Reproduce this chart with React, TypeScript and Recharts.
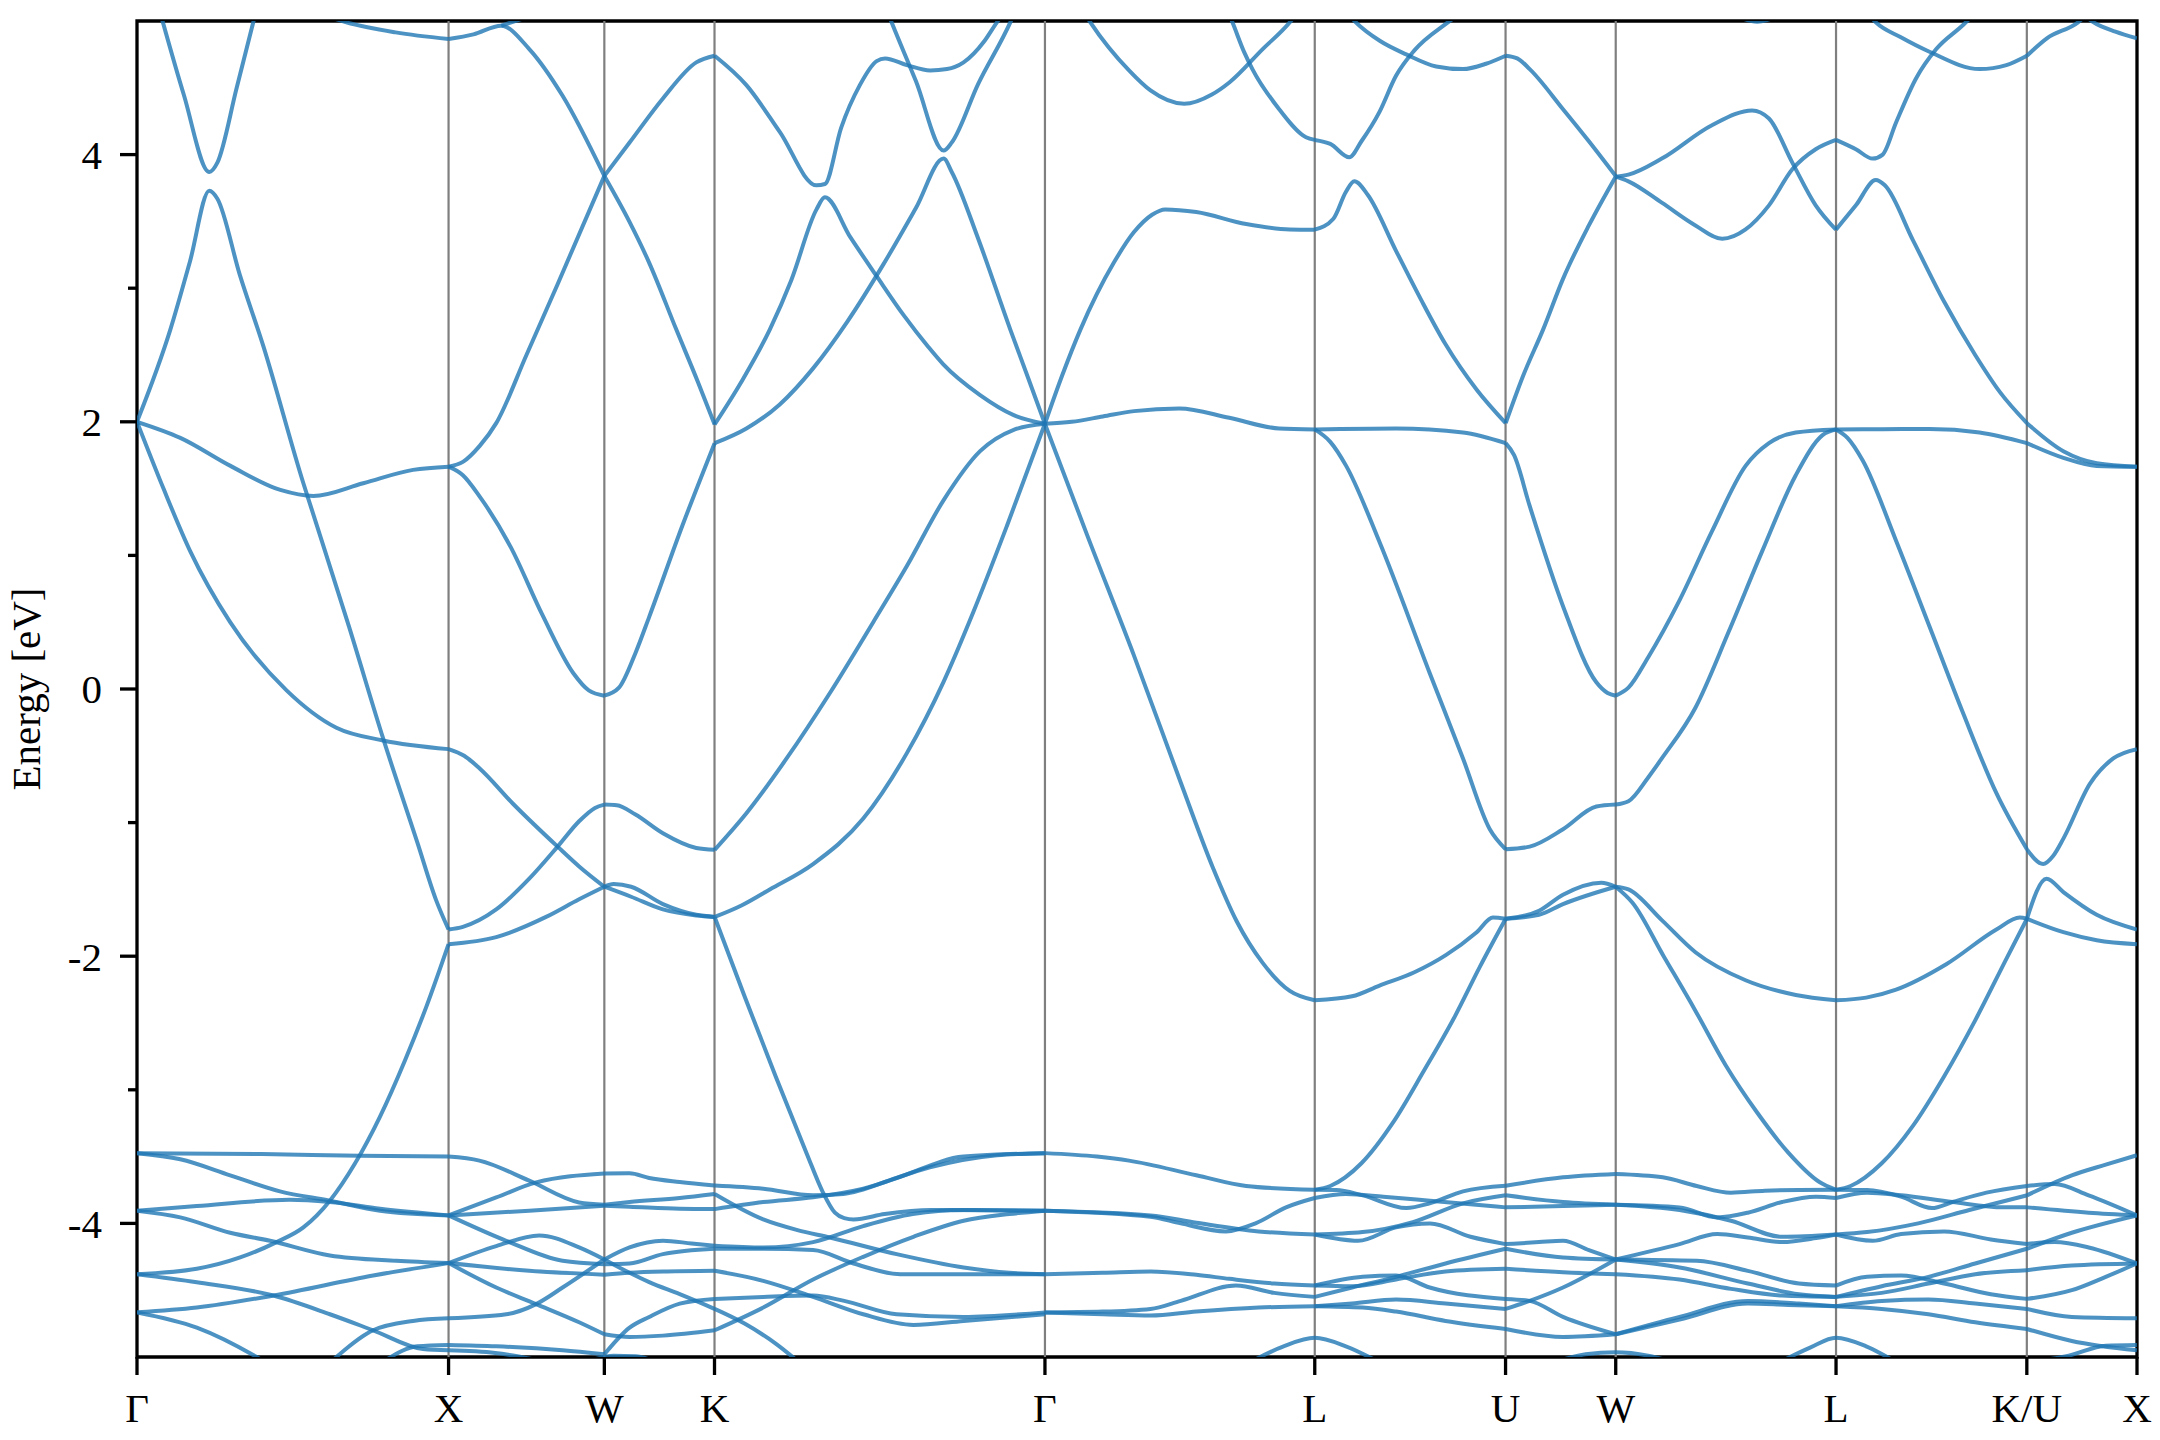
import React from "react";
import { LineChart, Line, XAxis, YAxis, ReferenceLine, ReferenceArea } from "recharts";

// k-path of the FCC zone, distances in units of 2pi/a
const kLabels = ["Γ", "X", "W", "K", "Γ", "L", "U", "W", "L", "K/U", "X"];
const kTicks = [0, 1, 1.5, 1.8536, 2.9142, 3.7802, 4.3926, 4.7462, 5.4533, 6.0657, 6.4193];
const energyTicks = [-4, -3, -2, -1, 0, 1, 2, 3, 4];
const energyLabels = [-4, -2, 0, 2, 4];

type Curve = number[][]; // [k, E] pairs

// bands read per path segment
const gammaX: Curve[] = [
    [[0.07, 5.1], [0.15, 4.45], [0.232, 3.87], [0.258, 3.94], [0.32, 4.5], [0.385, 5.1]],
    [[0, 2.0], [0.107, 2.69], [0.17, 3.2], [0.232, 3.73], [0.258, 3.67], [0.33, 3.1], [0.405, 2.57], [0.534, 1.54], [0.56, 1.35], [0.68, 0.47], [0.79, -0.37], [0.9, -1.15], [0.96, -1.58], [1, -1.8]],
    [[0, 2.0], [0.139, 1.88], [0.3, 1.67], [0.46, 1.49], [0.566, 1.445], [0.726, 1.54], [0.886, 1.64], [1, 1.664]],
    [[0, 2.0], [0.085, 1.5], [0.171, 1.03], [0.299, 0.5], [0.48, -0.01], [0.64, -0.29], [0.79, -0.385], [1, -0.45]],
    [[0.58, 5.06], [0.672, 4.99], [0.83, 4.915], [1, 4.865]],
    [[0, -4.38], [0.192, -4.34], [0.331, -4.255], [0.448, -4.14], [0.534, -4.03], [0.619, -3.83], [0.7, -3.55], [0.78, -3.2], [0.86, -2.78], [0.93, -2.37], [1, -1.91]],
    [[0, -3.474], [0.4, -3.48], [0.715, -3.494], [1, -3.5]],
    [[0, -3.474], [0.139, -3.52], [0.299, -3.64], [0.459, -3.76], [0.619, -3.83], [0.78, -3.905], [1, -3.94]],
    [[0, -3.905], [0.192, -3.87], [0.49, -3.823], [0.619, -3.84], [0.78, -3.89], [1, -3.94]],
    [[0, -3.905], [0.139, -3.955], [0.299, -4.07], [0.427, -4.13], [0.619, -4.24], [0.832, -4.28], [1, -4.297]],
    [[0, -4.38], [0.192, -4.44], [0.438, -4.54], [0.619, -4.68], [0.758, -4.8], [0.918, -4.94], [1, -4.95]],
    [[0, -4.666], [0.192, -4.63], [0.438, -4.54], [0.758, -4.39], [1, -4.297]],
    [[0, -4.666], [0.192, -4.78], [0.384, -5.0], [0.42, -5.05]],
    [[0.63, -5.02], [0.758, -4.8], [0.886, -4.73], [1, -4.71]],
    [[0.8, -5.02], [0.9, -4.92], [1, -4.91]],
];

const xW: Curve[] = [
    [[1, 4.865], [1.08, 4.9], [1.169, 4.965], [1.259, 4.79], [1.366, 4.44], [1.5, 3.84]],
    [[1.169, 4.965], [1.24, 5.02], [1.33, 5.1]],
    [[1, 1.664], [1.046, 1.7], [1.1, 1.82], [1.153, 1.99], [1.25, 2.5], [1.35, 3.03], [1.5, 3.84]],
    [[1, 1.664], [1.046, 1.6], [1.1, 1.44], [1.2, 1.06], [1.3, 0.56], [1.4, 0.12], [1.45, -0.01], [1.5, -0.05]],
    [[1, -0.45], [1.05, -0.5], [1.099, -0.593], [1.206, -0.857], [1.35, -1.18], [1.42, -1.33], [1.5, -1.48]],
    [[1, -1.8], [1.046, -1.78], [1.153, -1.65], [1.259, -1.42], [1.35, -1.18], [1.419, -0.99], [1.47, -0.89], [1.5, -0.865]],
    [[1, -1.91], [1.153, -1.857], [1.313, -1.706], [1.419, -1.574], [1.5, -1.48]],
    [[1, -3.5], [1.099, -3.53], [1.259, -3.68], [1.419, -3.843], [1.5, -3.86]],
    [[1, -3.94], [1.153, -3.806], [1.281, -3.693], [1.5, -3.626]],
    [[1, -3.94], [1.259, -3.905], [1.5, -3.868]],
    [[1, -3.94], [1.185, -4.13], [1.366, -4.28], [1.5, -4.305]],
    [[1, -4.297], [1.153, -4.17], [1.291, -4.09], [1.419, -4.18], [1.5, -4.27]],
    [[1, -4.297], [1.259, -4.355], [1.5, -4.384]],
    [[1, -4.297], [1.153, -4.48], [1.281, -4.604], [1.419, -4.74], [1.5, -4.83]],
    [[1, -4.71], [1.185, -4.68], [1.281, -4.604], [1.366, -4.48], [1.5, -4.27]],
    [[1, -4.91], [1.153, -4.92], [1.366, -4.95], [1.5, -4.98]],
    [[1, -4.95], [1.15, -4.97], [1.3, -5.03]],
];

const wK: Curve[] = [
    [[1.5, 3.84], [1.58, 3.5], [1.644, 3.19], [1.731, 2.69], [1.8, 2.3], [1.854, 1.98]],
    [[1.5, 3.84], [1.581, 4.09], [1.688, 4.42], [1.795, 4.69], [1.854, 4.74]],
    [[1.5, -0.05], [1.547, 0.01], [1.6, 0.27], [1.644, 0.54], [1.75, 1.22], [1.854, 1.84]],
    [[1.5, -0.865], [1.54, -0.87], [1.6, -0.94], [1.688, -1.08], [1.795, -1.19], [1.854, -1.204]],
    [[1.5, -1.48], [1.53, -1.46], [1.586, -1.48], [1.688, -1.61], [1.795, -1.69], [1.854, -1.706]],
    [[1.5, -1.48], [1.586, -1.555], [1.688, -1.65], [1.795, -1.695], [1.854, -1.706]],
    [[1.5, -3.626], [1.581, -3.625], [1.644, -3.66], [1.742, -3.69], [1.854, -3.716]],
    [[1.5, -3.86], [1.581, -3.84], [1.742, -3.81], [1.854, -3.78]],
    [[1.5, -3.868], [1.581, -3.875], [1.742, -3.89], [1.854, -3.893]],
    [[1.5, -4.27], [1.581, -4.18], [1.688, -4.13], [1.78, -4.15], [1.854, -4.167]],
    [[1.5, -4.305], [1.581, -4.3], [1.688, -4.23], [1.854, -4.19]],
    [[1.5, -4.384], [1.581, -4.37], [1.7, -4.36], [1.854, -4.355]],
    [[1.5, -4.27], [1.581, -4.37], [1.644, -4.44], [1.742, -4.53], [1.854, -4.64]],
    [[1.5, -4.83], [1.581, -4.85], [1.688, -4.84], [1.854, -4.8]],
    [[1.5, -4.98], [1.581, -4.78], [1.644, -4.7], [1.742, -4.6], [1.854, -4.565]],
    [[1.45, -5.03], [1.53, -4.99], [1.6, -4.995], [1.66, -5.03]],
];

const kGamma: Curve[] = [
    [[1.854, 1.98], [1.94, 2.3], [2.031, 2.69], [2.1, 3.06], [2.181, 3.59], [2.208, 3.68], [2.29, 3.38], [2.374, 3.09], [2.46, 2.8], [2.54, 2.56], [2.588, 2.43], [2.706, 2.2], [2.814, 2.05], [2.914, 1.985]],
    [[1.854, 1.84], [1.956, 1.95], [2.063, 2.13], [2.17, 2.4], [2.28, 2.75], [2.396, 3.18], [2.5, 3.6], [2.589, 3.97], [2.615, 3.87], [2.7, 3.37], [2.803, 2.69], [2.86, 2.33], [2.914, 1.985]],
    [[1.854, 4.74], [1.956, 4.52], [2.063, 4.17], [2.181, 3.77], [2.208, 3.78], [2.26, 4.2], [2.32, 4.52], [2.374, 4.7], [2.401, 4.72], [2.471, 4.67], [2.546, 4.63], [2.6, 4.64], [2.653, 4.69], [2.72, 4.85], [2.76, 4.99], [2.79, 5.08]],
    [[2.405, 5.09], [2.422, 4.99], [2.5, 4.55], [2.589, 4.03], [2.615, 4.09], [2.7, 4.53], [2.803, 4.99], [2.82, 5.08]],
    [[1.854, -1.204], [1.956, -0.93], [2.085, -0.52], [2.224, -0.03], [2.363, 0.5], [2.471, 0.92], [2.588, 1.41], [2.706, 1.78], [2.814, 1.94], [2.914, 1.985]],
    [[1.854, -1.706], [1.94, -1.62], [2.031, -1.5], [2.17, -1.31], [2.331, -0.97], [2.471, -0.48], [2.588, 0.05], [2.685, 0.58], [2.792, 1.22], [2.914, 1.985]],
    [[1.854, -1.706], [1.95, -2.3], [2.05, -2.9], [2.15, -3.48], [2.2, -3.76], [2.24, -3.92], [2.27, -3.96], [2.3, -3.97], [2.4, -3.93], [2.55, -3.9], [2.914, -3.905]],
    [[1.854, -3.716], [2.01, -3.74], [2.17, -3.79], [2.267, -3.78], [2.438, -3.66], [2.653, -3.5], [2.914, -3.474]],
    [[1.854, -3.893], [2.01, -3.84], [2.17, -3.805], [2.331, -3.74], [2.545, -3.58], [2.76, -3.49], [2.914, -3.474]],
    [[1.854, -3.78], [2.01, -3.97], [2.12, -4.05], [2.224, -4.105], [2.438, -4.23], [2.653, -4.33], [2.8, -4.37], [2.914, -4.38]],
    [[1.854, -4.167], [2.01, -4.18], [2.17, -4.14], [2.331, -4.02], [2.49, -3.93], [2.653, -3.9], [2.914, -3.905]],
    [[1.854, -4.19], [2.01, -4.19], [2.17, -4.2], [2.3, -4.3], [2.45, -4.38], [2.65, -4.38], [2.914, -4.38]],
    [[1.854, -4.355], [2.01, -4.43], [2.17, -4.55], [2.331, -4.68], [2.492, -4.76], [2.653, -4.73], [2.914, -4.68]],
    [[1.854, -4.565], [2.01, -4.55], [2.17, -4.54], [2.27, -4.58], [2.438, -4.68], [2.653, -4.7], [2.914, -4.666]],
    [[1.854, -4.8], [2.01, -4.63], [2.17, -4.42], [2.331, -4.25], [2.492, -4.1], [2.653, -3.98], [2.8, -3.93], [2.914, -3.905]],
    [[1.854, -4.64], [1.95, -4.75], [2.05, -4.9], [2.12, -5.03]],
];

const gammaL: Curve[] = [
    [[2.914, 1.985], [2.97, 2.35], [3.028, 2.69], [3.135, 3.19], [3.2, 3.42], [3.258, 3.55], [3.3, 3.59], [3.4, 3.57], [3.56, 3.48], [3.7, 3.44], [3.78, 3.438]],
    [[2.914, 1.985], [3.05, 1.15], [3.2, 0.25], [3.35, -0.7], [3.452, -1.33], [3.53, -1.74], [3.613, -2.05], [3.7, -2.26], [3.78, -2.33]],
    [[2.914, 1.985], [3.0, 2.0], [3.1, 2.04], [3.2, 2.08], [3.345, 2.1], [3.506, 2.03], [3.666, 1.95], [3.78, 1.943]],
    [[3.03, 5.1], [3.06, 4.99], [3.184, 4.63], [3.253, 4.48], [3.361, 4.38], [3.45, 4.45], [3.506, 4.54], [3.613, 4.79], [3.7, 4.99], [3.72, 5.05]],
    [[3.5, 5.08], [3.516, 4.99], [3.554, 4.765], [3.58, 4.64], [3.666, 4.34], [3.752, 4.13], [3.78, 4.11]],
    [[2.914, -3.474], [3.081, -3.5], [3.184, -3.53], [3.4, -3.64], [3.56, -3.72], [3.78, -3.749]],
    [[2.914, -3.905], [3.253, -3.94], [3.4, -3.995], [3.6, -4.06], [3.78, -4.083]],
    [[2.914, -3.905], [3.253, -3.95], [3.35, -4.0], [3.495, -4.06], [3.59, -4.0], [3.688, -3.88], [3.78, -3.81]],
    [[2.914, -4.38], [3.1, -4.37], [3.253, -4.36], [3.4, -4.385], [3.506, -4.415], [3.65, -4.45], [3.78, -4.465]],
    [[2.914, -4.666], [3.1, -4.68], [3.253, -4.69], [3.4, -4.66], [3.6, -4.63], [3.78, -4.62]],
    [[2.914, -4.666], [3.1, -4.66], [3.253, -4.64], [3.35, -4.58], [3.527, -4.465], [3.65, -4.52], [3.78, -4.55]],
    [[3.58, -5.03], [3.68, -4.92], [3.78, -4.856], [3.88, -4.92], [3.98, -5.03]],
];

const lU: Curve[] = [
    [[3.78, 4.11], [3.83, 4.08], [3.891, 3.98], [3.93, 4.1], [3.988, 4.32], [4.041, 4.59], [4.1, 4.78], [4.202, 4.98], [4.25, 5.06]],
    [[3.78, 3.438], [3.84, 3.52], [3.88, 3.72], [3.907, 3.8], [3.95, 3.7], [4.041, 3.28], [4.12, 2.92], [4.2, 2.58], [4.3, 2.24], [4.393, 1.99]],
    [[3.87, 5.1], [3.912, 4.99], [3.99, 4.85], [4.074, 4.75], [4.17, 4.66], [4.256, 4.64], [4.33, 4.68], [4.393, 4.74]],
    [[3.78, 1.943], [4.041, 1.95], [4.256, 1.92], [4.393, 1.84]],
    [[3.78, 1.943], [3.83, 1.85], [3.881, 1.67], [3.988, 1.1], [4.149, 0.12], [4.256, -0.52], [4.342, -1.05], [4.393, -1.2]],
    [[3.78, -2.33], [3.9, -2.3], [3.988, -2.22], [4.1, -2.12], [4.202, -1.99], [4.3, -1.82], [4.352, -1.71], [4.393, -1.72]],
    [[3.78, -3.749], [3.83, -3.72], [3.93, -3.55], [4.03, -3.25], [4.13, -2.86], [4.23, -2.45], [4.31, -2.08], [4.393, -1.72]],
    [[3.78, -3.749], [3.849, -3.75], [3.934, -3.79], [4.074, -3.885], [4.149, -3.85], [4.256, -3.76], [4.393, -3.718]],
    [[3.78, -3.81], [3.88, -3.78], [4.0, -3.8], [4.15, -3.83], [4.393, -3.88]],
    [[3.78, -4.083], [3.934, -4.065], [4.095, -3.99], [4.256, -3.85], [4.393, -3.79]],
    [[3.78, -4.083], [3.92, -4.13], [4.041, -4.03], [4.15, -4.0], [4.28, -4.1], [4.393, -4.155]],
    [[3.78, -4.465], [3.934, -4.4], [4.041, -4.39], [4.149, -4.48], [4.393, -4.565]],
    [[3.78, -4.55], [3.9, -4.48], [4.041, -4.4], [4.2, -4.3], [4.393, -4.19]],
    [[3.78, -4.465], [3.9, -4.47], [4.041, -4.42], [4.2, -4.36], [4.393, -4.34]],
    [[3.78, -4.62], [3.9, -4.6], [4.041, -4.57], [4.2, -4.6], [4.393, -4.64]],
    [[3.78, -4.62], [3.934, -4.63], [4.041, -4.66], [4.2, -4.73], [4.393, -4.79]],
];

const uW: Curve[] = [
    [[4.393, 4.74], [4.43, 4.72], [4.47, 4.64], [4.577, 4.34], [4.66, 4.1], [4.746, 3.84]],
    [[4.393, 1.99], [4.45, 2.35], [4.513, 2.69], [4.577, 3.07], [4.66, 3.47], [4.746, 3.835]],
    [[4.393, 1.84], [4.42, 1.75], [4.47, 1.37], [4.577, 0.62], [4.684, 0.05], [4.72, -0.03], [4.746, -0.05]],
    [[4.393, -1.2], [4.47, -1.18], [4.577, -1.05], [4.684, -0.88], [4.746, -0.865]],
    [[4.393, -1.72], [4.5, -1.66], [4.577, -1.54], [4.7, -1.45], [4.746, -1.48]],
    [[4.393, -1.72], [4.5, -1.69], [4.577, -1.61], [4.746, -1.48]],
    [[4.393, -3.718], [4.577, -3.655], [4.746, -3.63]],
    [[4.393, -3.79], [4.577, -3.84], [4.746, -3.86]],
    [[4.393, -3.88], [4.577, -3.87], [4.746, -3.86]],
    [[4.393, -4.155], [4.5, -4.14], [4.577, -4.13], [4.66, -4.2], [4.746, -4.27]],
    [[4.393, -4.19], [4.577, -4.255], [4.746, -4.27]],
    [[4.393, -4.34], [4.577, -4.365], [4.746, -4.38]],
    [[4.393, -4.565], [4.47, -4.58], [4.577, -4.7], [4.746, -4.83]],
    [[4.393, -4.64], [4.47, -4.58], [4.577, -4.48], [4.746, -4.27]],
    [[4.393, -4.79], [4.577, -4.85], [4.746, -4.83]],
    [[4.56, -5.03], [4.65, -4.98], [4.746, -4.965], [4.85, -4.99], [4.92, -5.03]],
];

const wL: Curve[] = [
    [[4.746, 3.835], [4.787, 3.85], [4.894, 3.97], [5.055, 4.22], [5.184, 4.33], [5.238, 4.27], [5.313, 3.94], [5.388, 3.62], [5.453, 3.438]],
    [[4.746, 3.835], [4.787, 3.8], [4.894, 3.64], [5.002, 3.47], [5.088, 3.37], [5.163, 3.44], [5.238, 3.62], [5.313, 3.89], [5.388, 4.04], [5.453, 4.11]],
    [[5.12, 5.05], [5.2, 4.995], [5.28, 5.05]],
    [[4.746, -0.05], [4.787, 0.01], [4.851, 0.24], [4.948, 0.65], [5.055, 1.18], [5.163, 1.67], [5.238, 1.84], [5.324, 1.92], [5.453, 1.943]],
    [[4.746, -0.865], [4.787, -0.84], [4.851, -0.66], [4.894, -0.52], [5.002, -0.14], [5.109, 0.43], [5.216, 1.03], [5.324, 1.6], [5.41, 1.9], [5.453, 1.943]],
    [[4.746, -1.48], [4.787, -1.5], [4.894, -1.73], [5.002, -1.97], [5.163, -2.18], [5.324, -2.29], [5.453, -2.33]],
    [[4.746, -1.48], [4.8, -1.6], [4.9, -2.0], [5.0, -2.4], [5.1, -2.82], [5.2, -3.17], [5.3, -3.47], [5.4, -3.69], [5.453, -3.749]],
    [[4.746, -3.63], [4.897, -3.655], [5.006, -3.72], [5.116, -3.77], [5.225, -3.755], [5.334, -3.75], [5.453, -3.749]],
    [[4.746, -3.86], [4.951, -3.88], [5.072, -3.955], [5.17, -3.92], [5.28, -3.84], [5.389, -3.8], [5.453, -3.81]],
    [[4.746, -3.86], [4.951, -3.9], [5.116, -3.98], [5.28, -4.1], [5.453, -4.083]],
    [[4.746, -4.27], [4.951, -4.155], [5.072, -4.08], [5.17, -4.105], [5.28, -4.14], [5.389, -4.11], [5.453, -4.083]],
    [[4.746, -4.27], [5.006, -4.28], [5.17, -4.355], [5.334, -4.45], [5.453, -4.465]],
    [[4.746, -4.27], [4.951, -4.33], [5.17, -4.45], [5.334, -4.53], [5.453, -4.55]],
    [[4.746, -4.38], [4.951, -4.42], [5.116, -4.49], [5.28, -4.54], [5.453, -4.55]],
    [[4.746, -4.83], [4.951, -4.7], [5.17, -4.58], [5.334, -4.6], [5.453, -4.62]],
    [[4.746, -4.83], [4.951, -4.72], [5.17, -4.6], [5.3, -4.61], [5.453, -4.62]],
    [[5.28, -5.03], [5.37, -4.93], [5.453, -4.856], [5.55, -4.92], [5.64, -5.03]],
];

const lK: Curve[] = [
    [[5.453, 4.11], [5.517, 4.04], [5.571, 3.97], [5.603, 4.0], [5.646, 4.24], [5.71, 4.57], [5.775, 4.79], [5.861, 4.97], [5.9, 5.06]],
    [[5.453, 3.438], [5.517, 3.62], [5.581, 3.81], [5.61, 3.77], [5.7, 3.36], [5.8, 2.9], [5.9, 2.5], [5.98, 2.22], [6.066, 1.99]],
    [[5.55, 5.07], [5.581, 4.99], [5.66, 4.88], [5.753, 4.77], [5.914, 4.64], [6.0, 4.67], [6.066, 4.74]],
    [[5.453, 1.943], [5.6, 1.945], [5.753, 1.946], [5.914, 1.92], [6.066, 1.84]],
    [[5.453, 1.943], [5.49, 1.88], [5.539, 1.71], [5.646, 1.11], [5.753, 0.47], [5.861, -0.18], [5.968, -0.78], [6.066, -1.2]],
    [[5.453, -2.33], [5.55, -2.31], [5.646, -2.25], [5.807, -2.06], [5.968, -1.8], [6.043, -1.71], [6.066, -1.72]],
    [[5.453, -3.749], [5.5, -3.72], [5.6, -3.55], [5.7, -3.27], [5.8, -2.9], [5.9, -2.48], [6.0, -2.02], [6.066, -1.72]],
    [[5.453, -3.749], [5.553, -3.75], [5.662, -3.8], [5.761, -3.885], [5.827, -3.84], [5.936, -3.77], [6.066, -3.72]],
    [[5.453, -3.81], [5.553, -3.77], [5.662, -3.79], [5.827, -3.84], [5.991, -3.88], [6.066, -3.88]],
    [[5.453, -4.083], [5.553, -4.065], [5.717, -4.0], [5.881, -3.9], [6.066, -3.79]],
    [[5.453, -4.083], [5.571, -4.13], [5.662, -4.08], [5.8, -4.06], [5.95, -4.12], [6.066, -4.155]],
    [[5.453, -4.465], [5.553, -4.4], [5.662, -4.39], [5.8, -4.45], [5.95, -4.53], [6.066, -4.565]],
    [[5.453, -4.55], [5.6, -4.47], [5.75, -4.4], [5.9, -4.3], [6.066, -4.19]],
    [[5.453, -4.55], [5.6, -4.52], [5.75, -4.45], [5.9, -4.38], [6.066, -4.35]],
    [[5.453, -4.62], [5.6, -4.58], [5.75, -4.57], [5.9, -4.6], [6.066, -4.64]],
    [[5.453, -4.62], [5.6, -4.64], [5.75, -4.68], [5.9, -4.74], [6.066, -4.79]],
];

const uX: Curve[] = [
    [[6.066, 4.74], [6.13, 4.87], [6.23, 4.99], [6.26, 5.05]],
    [[6.24, 5.06], [6.28, 4.99], [6.35, 4.92], [6.419, 4.87]],
    [[6.066, 1.99], [6.183, 1.78], [6.29, 1.69], [6.419, 1.664]],
    [[6.066, 1.84], [6.183, 1.73], [6.29, 1.67], [6.419, 1.664]],
    [[6.066, -1.2], [6.118, -1.31], [6.15, -1.25], [6.183, -1.12], [6.268, -0.71], [6.343, -0.52], [6.419, -0.45]],
    [[6.066, -1.72], [6.183, -1.82], [6.29, -1.88], [6.419, -1.91]],
    [[6.066, -1.72], [6.129, -1.42], [6.183, -1.52], [6.29, -1.69], [6.419, -1.8]],
    [[6.066, -3.72], [6.155, -3.705], [6.264, -3.79], [6.419, -3.94]],
    [[6.066, -3.79], [6.21, -3.64], [6.319, -3.56], [6.419, -3.49]],
    [[6.066, -3.88], [6.264, -3.92], [6.419, -3.94]],
    [[6.066, -4.155], [6.155, -4.14], [6.264, -4.18], [6.419, -4.3]],
    [[6.066, -4.19], [6.21, -4.07], [6.419, -3.94]],
    [[6.066, -4.35], [6.21, -4.315], [6.419, -4.3]],
    [[6.066, -4.565], [6.21, -4.5], [6.319, -4.4], [6.419, -4.3]],
    [[6.066, -4.64], [6.21, -4.7], [6.419, -4.71]],
    [[6.066, -4.79], [6.21, -4.88], [6.419, -4.95]],
    [[6.1, -5.03], [6.2, -4.99], [6.319, -4.915], [6.419, -4.91]],
];

const bands = [...gammaX, ...xW, ...wK, ...kGamma, ...gammaL, ...lU, ...uW, ...wL, ...lK, ...uX]
    .map((curve) => curve.map(([k, e]) => ({ k, e })));

const FONT = "'Liberation Serif', 'DejaVu Serif', serif";

const XTick = (props: any) => {
    const { x, y, payload } = props;
    const idx = kTicks.indexOf(payload.value);
    return (
        <g>
            <line x1={x} x2={x} y1={y} y2={y + 18} stroke="#000" strokeWidth={3.3} />
            <text x={x} y={y + 65} textAnchor="middle" fontFamily={FONT} fontSize={41} fill="#000">
                {kLabels[idx]}
            </text>
        </g>
    );
};

const YTick = (props: any) => {
    const { x, y, payload } = props;
    const major = energyLabels.includes(payload.value);
    return (
        <g>
            <line x1={x} x2={x - (major ? 17 : 9)} y1={y} y2={y} stroke="#000" strokeWidth={3.3} />
            {major && (
                <text x={x - 35} y={y} dy="0.35em" textAnchor="end" fontFamily={FONT} fontSize={41} fill="#000">
                    {payload.value}
                </text>
            )}
        </g>
    );
};

const yLabel = () => (
    <text x={26} y={689} transform="rotate(-90, 26, 689)" textAnchor="middle" dominantBaseline="central"
        fontFamily={FONT} fontSize={41} fill="#000">
        Energy [eV]
    </text>
);

export default function App() {
    return (
        <div style={{ position: "absolute", left: 0, top: 0, width: 2160, height: 1440, background: "#fff" }}>
            <LineChart width={2160} height={1440} margin={{ top: 21, right: 23, bottom: 0, left: 0 }}>
                <XAxis type="number" dataKey="k" domain={[0, 6.4193]} ticks={kTicks} interval={0}
                    allowDataOverflow height={83} tickSize={0} tickMargin={0} axisLine={false} tick={<XTick />} />
                <YAxis type="number" domain={[-5, 5]} ticks={energyTicks} interval={0}
                    allowDataOverflow width={137} tickSize={0} tickMargin={0} axisLine={false} tick={<YTick />}
                    label={yLabel} />
                {kTicks.slice(1, -1).map((k, i) => (
                    <ReferenceLine key={`v${i}`} x={k} stroke="#7f7f7f" strokeWidth={2.2} />
                ))}
                {bands.map((data, i) => (
                    <Line key={i} data={data} dataKey="e" type="monotone" stroke="#1f77b4" strokeOpacity={0.8}
                        strokeWidth={4} dot={false} activeDot={false} isAnimationActive={false} />
                ))}
                <ReferenceArea x1={0} x2={6.4193} y1={-5} y2={5} fill="none" stroke="#000" strokeWidth={3.3} />
            </LineChart>
        </div>
    );
}
